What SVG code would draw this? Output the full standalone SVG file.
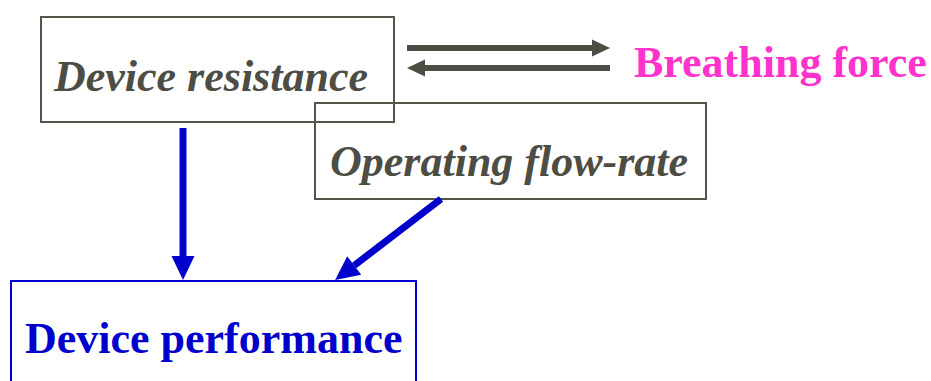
<svg xmlns="http://www.w3.org/2000/svg" width="931" height="381" viewBox="0 0 931 381">
<style>
.gbox{fill:none;stroke:#55554c;stroke-width:2}
.bbox{fill:none;stroke:#0000cc;stroke-width:2}
.gline{stroke:#4d4d44;stroke-width:6;fill:none;marker-end:url(#gh)}
.bline{stroke:#0000cc;stroke-width:7;fill:none;marker-end:url(#bh)}
</style>
<defs>
<marker id="gh" markerUnits="userSpaceOnUse" markerWidth="18" markerHeight="17" refX="0" refY="8.5" orient="auto" overflow="visible">
<path d="M0,0 L18,8.5 L0,17 z" fill="#4d4d44"/>
</marker>
<marker id="bh" markerUnits="userSpaceOnUse" markerWidth="24" markerHeight="23" refX="0" refY="11.5" orient="auto" overflow="visible">
<path d="M0,0 L24,11.5 L0,23 z" fill="#0000cc"/>
</marker>
</defs>
<g id="device-resistance">
<rect class="gbox" x="41" y="17" width="353" height="105"/>
<text x="54" y="91" style="font-family:'Times New Roman','Liberation Serif',serif;font-size:44px;font-weight:bold;font-style:italic;fill:#4d4d44">Device resistance</text>
</g>
<g id="operating-flow-rate">
<rect class="gbox" x="315" y="103" width="391" height="96"/>
<text x="330" y="176" style="font-family:'Times New Roman','Liberation Serif',serif;font-size:44px;font-weight:bold;font-style:italic;fill:#4d4d44">Operating flow-rate</text>
</g>
<g id="breathing-force">
<text x="634" y="77" style="font-family:'Times New Roman','Liberation Serif',serif;font-size:44px;font-weight:bold;fill:#ff33cc">Breathing force</text>
</g>
<g id="device-performance">
<rect class="bbox" x="11" y="281" width="405" height="120"/>
<text x="25" y="353" style="font-family:'Times New Roman','Liberation Serif',serif;font-size:44px;font-weight:bold;fill:#0000cc">Device performance</text>
</g>
<g id="connectors">
<line class="gline" x1="407" y1="48" x2="592" y2="48"/>
<line class="gline" x1="610" y1="68" x2="425" y2="68"/>
<line class="bline" x1="183" y1="128" x2="183" y2="256"/>
<line class="bline" x1="441" y1="199" x2="354.2" y2="265.5"/>
</g>
</svg>
